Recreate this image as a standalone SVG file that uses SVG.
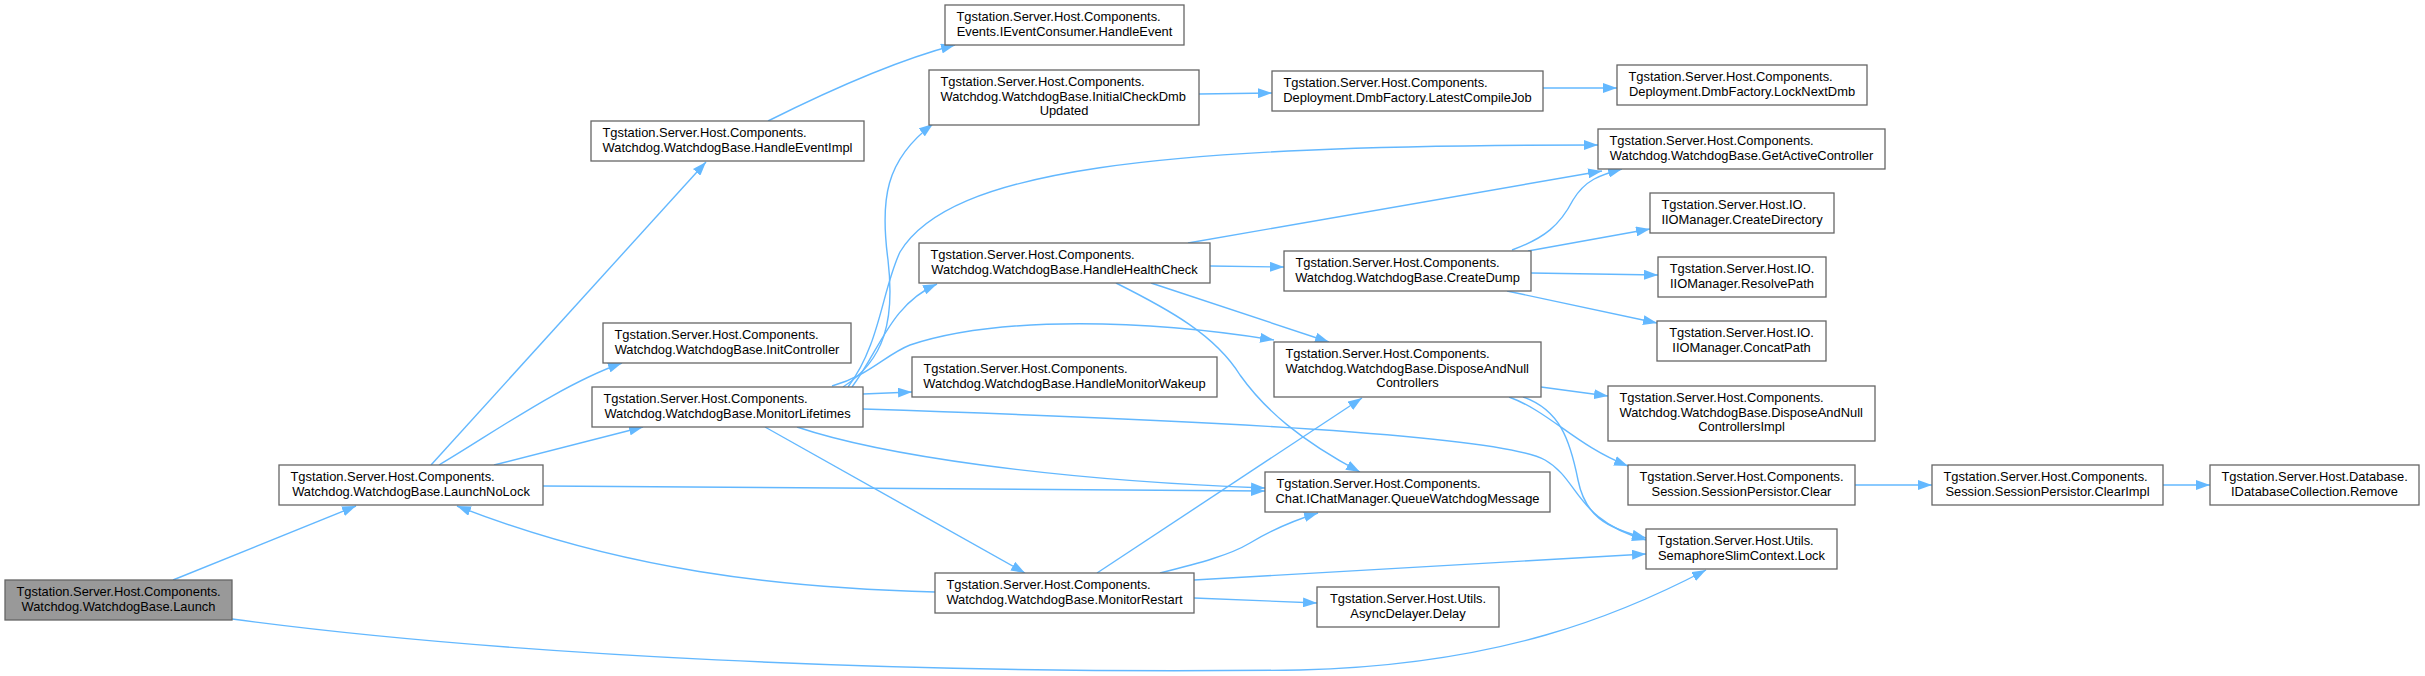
<svg xmlns="http://www.w3.org/2000/svg" width="2425" height="676" viewBox="0 0 2425 676">
<defs>
<marker id="ah" viewBox="0 0 14 10" refX="14" refY="5" markerWidth="14" markerHeight="10" markerUnits="userSpaceOnUse" orient="auto">
<path d="M0,0 L14,5 L0,10 z" fill="#63b8ff"/>
</marker>
<style>
.e{fill:none;stroke:#63b8ff;stroke-width:1.4;marker-end:url(#ah)}
.n rect{fill:#ffffff;stroke:#666666;stroke-width:1.3}
.n.root rect{fill:#999999}
.n text{font-family:"Liberation Sans",Arial,Helvetica,sans-serif;font-size:12.9px;fill:#000000}
.m{text-anchor:middle}
</style>
</defs>
<rect x="0" y="0" width="2425" height="676" fill="#ffffff"/>
<g id="connectors">
<path class="e" d="M173,580 L356,506"/>
<path class="e" d="M232,619 C500,655 900,675 1300,670 C1500,665 1620,615 1706,570"/>
<path class="e" d="M431,465 L706,162"/>
<path class="e" d="M439,465 C490,435 560,385 622,363"/>
<path class="e" d="M494,465 L643,427"/>
<path class="e" d="M543,486 L1265,491"/>
<path class="e" d="M768,121 C820,95 890,62 955,45"/>
<path class="e" d="M843,387 C885,360 895,320 888,260 C880,200 885,160 933,124"/>
<path class="e" d="M848,387 C880,345 882,290 900,252 C950,170 1150,145 1598,145"/>
<path class="e" d="M852,387 C880,350 890,305 937,284"/>
<path class="e" d="M832,386 C870,375 885,355 910,345 C1000,315 1150,320 1274,340"/>
<path class="e" d="M863,394 L912,392"/>
<path class="e" d="M863,409 C1200,420 1500,435 1545,460 C1580,480 1575,520 1646,540"/>
<path class="e" d="M797,427 C880,455 1050,480 1265,488"/>
<path class="e" d="M765,427 L1025,573"/>
<path class="e" d="M935,592 C780,588 620,570 457,506"/>
<path class="e" d="M1097,573 L1362,398"/>
<path class="e" d="M1160,573 C1200,563 1230,555 1250,543 C1275,528 1295,520 1318,513"/>
<path class="e" d="M1194,580 C1350,572 1500,562 1646,554"/>
<path class="e" d="M1194,598 L1317,603"/>
<path class="e" d="M1199,94 L1272,93"/>
<path class="e" d="M1543,88 L1617,88"/>
<path class="e" d="M1188,243 L1602,171"/>
<path class="e" d="M1210,266 L1284,267"/>
<path class="e" d="M1151,283 L1329,342"/>
<path class="e" d="M1116,283 C1170,310 1215,335 1240,375 C1265,410 1300,440 1360,472"/>
<path class="e" d="M1512,250 C1545,238 1560,225 1573,200 C1585,180 1600,175 1622,169"/>
<path class="e" d="M1528,251 L1650,229"/>
<path class="e" d="M1531,273 L1658,275"/>
<path class="e" d="M1507,291 L1657,323"/>
<path class="e" d="M1541,387 L1608,396"/>
<path class="e" d="M1509,397 C1550,412 1575,445 1628,466"/>
<path class="e" d="M1523,397 C1560,410 1570,440 1578,480 C1585,515 1605,528 1646,538"/>
<path class="e" d="M1855,485 L1932,485"/>
<path class="e" d="M2163,485 L2210,485"/>
</g>
<g id="launch" class="n root"><rect x="5" y="580" width="227" height="40"/><text x="16.5" y="596">Tgstation.Server.Host.Components.</text><text class="m" x="118.5" y="610.7">Watchdog.WatchdogBase.Launch</text></g>
<g id="launchNoLock" class="n"><rect x="279" y="465" width="264" height="40"/><text x="290.5" y="481">Tgstation.Server.Host.Components.</text><text class="m" x="411" y="495.7">Watchdog.WatchdogBase.LaunchNoLock</text></g>
<g id="handleEventImpl" class="n"><rect x="591" y="121" width="273" height="40"/><text x="602.5" y="137">Tgstation.Server.Host.Components.</text><text class="m" x="727.5" y="151.7">Watchdog.WatchdogBase.HandleEventImpl</text></g>
<g id="initController" class="n"><rect x="603" y="323" width="248" height="40"/><text x="614.5" y="339">Tgstation.Server.Host.Components.</text><text class="m" x="727" y="353.7">Watchdog.WatchdogBase.InitController</text></g>
<g id="monitorLifetimes" class="n"><rect x="592" y="387" width="271" height="40"/><text x="603.5" y="403">Tgstation.Server.Host.Components.</text><text class="m" x="727.5" y="417.7">Watchdog.WatchdogBase.MonitorLifetimes</text></g>
<g id="handleEvent" class="n"><rect x="945" y="5" width="239" height="40"/><text x="956.5" y="21">Tgstation.Server.Host.Components.</text><text class="m" x="1064.5" y="35.7">Events.IEventConsumer.HandleEvent</text></g>
<g id="initialCheckDmbUpdated" class="n"><rect x="929" y="70" width="270" height="55"/><text x="940.5" y="86">Tgstation.Server.Host.Components.</text><text x="940.5" y="100.7">Watchdog.WatchdogBase.InitialCheckDmb</text><text class="m" x="1064" y="115.3">Updated</text></g>
<g id="handleHealthCheck" class="n"><rect x="919" y="243" width="291" height="40"/><text x="930.5" y="259">Tgstation.Server.Host.Components.</text><text class="m" x="1064.5" y="273.7">Watchdog.WatchdogBase.HandleHealthCheck</text></g>
<g id="handleMonitorWakeup" class="n"><rect x="912" y="357" width="305" height="40"/><text x="923.5" y="373">Tgstation.Server.Host.Components.</text><text class="m" x="1064.5" y="387.7">Watchdog.WatchdogBase.HandleMonitorWakeup</text></g>
<g id="monitorRestart" class="n"><rect x="935" y="573" width="259" height="40"/><text x="946.5" y="589">Tgstation.Server.Host.Components.</text><text class="m" x="1064.5" y="603.7">Watchdog.WatchdogBase.MonitorRestart</text></g>
<g id="latestCompileJob" class="n"><rect x="1272" y="71" width="271" height="40"/><text x="1283.5" y="87">Tgstation.Server.Host.Components.</text><text class="m" x="1407.5" y="101.7">Deployment.DmbFactory.LatestCompileJob</text></g>
<g id="createDump" class="n"><rect x="1284" y="251" width="247" height="40"/><text x="1295.5" y="267">Tgstation.Server.Host.Components.</text><text class="m" x="1407.5" y="281.7">Watchdog.WatchdogBase.CreateDump</text></g>
<g id="disposeAndNullControllers" class="n"><rect x="1274" y="342" width="267" height="55"/><text x="1285.5" y="358">Tgstation.Server.Host.Components.</text><text x="1285.5" y="372.7">Watchdog.WatchdogBase.DisposeAndNull</text><text class="m" x="1407.5" y="387.3">Controllers</text></g>
<g id="queueWatchdogMessage" class="n"><rect x="1265" y="472" width="285" height="40"/><text x="1276.5" y="488">Tgstation.Server.Host.Components.</text><text class="m" x="1407.5" y="502.7">Chat.IChatManager.QueueWatchdogMessage</text></g>
<g id="asyncDelayerDelay" class="n"><rect x="1317" y="587" width="182" height="40"/><text class="m" x="1408" y="603">Tgstation.Server.Host.Utils.</text><text class="m" x="1408" y="617.7">AsyncDelayer.Delay</text></g>
<g id="lockNextDmb" class="n"><rect x="1617" y="65" width="250" height="40"/><text x="1628.5" y="81">Tgstation.Server.Host.Components.</text><text class="m" x="1742" y="95.7">Deployment.DmbFactory.LockNextDmb</text></g>
<g id="getActiveController" class="n"><rect x="1598" y="129" width="287" height="40"/><text x="1609.5" y="145">Tgstation.Server.Host.Components.</text><text class="m" x="1741.5" y="159.7">Watchdog.WatchdogBase.GetActiveController</text></g>
<g id="createDirectory" class="n"><rect x="1650" y="193" width="184" height="40"/><text x="1661.5" y="209">Tgstation.Server.Host.IO.</text><text class="m" x="1742" y="223.7">IIOManager.CreateDirectory</text></g>
<g id="resolvePath" class="n"><rect x="1658" y="257" width="168" height="40"/><text class="m" x="1742" y="273">Tgstation.Server.Host.IO.</text><text class="m" x="1742" y="287.7">IIOManager.ResolvePath</text></g>
<g id="concatPath" class="n"><rect x="1657" y="321" width="169" height="40"/><text class="m" x="1741.5" y="337">Tgstation.Server.Host.IO.</text><text class="m" x="1741.5" y="351.7">IIOManager.ConcatPath</text></g>
<g id="disposeAndNullControllersImpl" class="n"><rect x="1608" y="386" width="267" height="55"/><text x="1619.5" y="402">Tgstation.Server.Host.Components.</text><text x="1619.5" y="416.7">Watchdog.WatchdogBase.DisposeAndNull</text><text class="m" x="1741.5" y="431.3">ControllersImpl</text></g>
<g id="sessionPersistorClear" class="n"><rect x="1628" y="465" width="227" height="40"/><text class="m" x="1741.5" y="481">Tgstation.Server.Host.Components.</text><text class="m" x="1741.5" y="495.7">Session.SessionPersistor.Clear</text></g>
<g id="semaphoreSlimContextLock" class="n"><rect x="1646" y="529" width="191" height="40"/><text x="1657.5" y="545">Tgstation.Server.Host.Utils.</text><text class="m" x="1741.5" y="559.7">SemaphoreSlimContext.Lock</text></g>
<g id="sessionPersistorClearImpl" class="n"><rect x="1932" y="465" width="231" height="40"/><text x="1943.5" y="481">Tgstation.Server.Host.Components.</text><text class="m" x="2047.5" y="495.7">Session.SessionPersistor.ClearImpl</text></g>
<g id="databaseCollectionRemove" class="n"><rect x="2210" y="465" width="209" height="40"/><text x="2221.5" y="481">Tgstation.Server.Host.Database.</text><text class="m" x="2314.5" y="495.7">IDatabaseCollection.Remove</text></g>
</svg>
